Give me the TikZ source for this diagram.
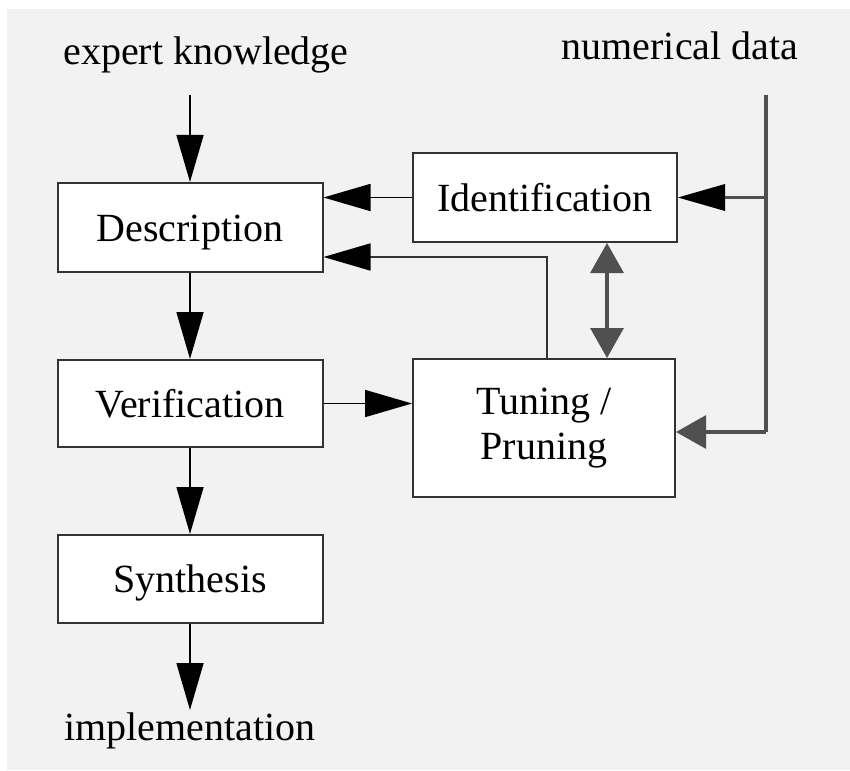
\documentclass[tikz,border=0pt]{standalone}
\usepackage{fontspec}
\setmainfont{Liberation Serif}
\usetikzlibrary{arrows.meta}
\definecolor{bggray}{HTML}{F2F2F2}
\definecolor{boxline}{HTML}{333333}
\definecolor{dataline}{HTML}{505050}
\tikzset{
  block/.style={draw=boxline, line width=2pt, fill=white, inner sep=0pt,
    minimum width=265pt, text height=27pt, text depth=0pt,
    font=\fontsize{40}{44}\selectfont},
  lbl/.style={inner sep=0pt, anchor=base, font=\fontsize{40}{44}\selectfont},
  bigtip/.tip={Triangle[length=47pt,width=27pt]},
  graytip/.tip={Triangle[length=30pt,width=33pt]},
  flow/.style={draw=black, line width=1.6pt, -{bigtip}},
  feedback/.style={draw=boxline, line width=1.6pt, -{bigtip[color=black]}},
  datawire/.style={draw=dataline, line width=3.2pt},
}
\begin{document}
\begin{tikzpicture}[x=1pt, y=-1pt]
  % page and panel
  \fill[white] (0,0) rectangle (850,770);
  \fill[bggray] (7,9) rectangle (850,770);
  \useasboundingbox (0,0) rectangle (850,770);

  % blocks
  \node[block, minimum height=89pt] (des) at (190,227.5) {Description};
  \node[block, minimum height=87pt] (ver) at (190,403.5) {Verification};
  \node[block, minimum height=88pt] (syn) at (190,579) {Synthesis};
  \node[block, minimum width=264pt, minimum height=89pt] (idn) at (545,197.5) {Identification};
  \node[block, minimum width=262pt, minimum height=138pt, text height=, text depth=, align=center]
    (tun) at (544,428) {Tuning /\\[1pt]Pruning};

  % inputs and output
  \node[lbl] (ek) at (206,65) {expert knowledge};
  \node[lbl] (nd) at (680,60) {numerical data};
  \node[lbl] (im) at (190,740) {implementation};
  \coordinate (ektop) at (190,95);
  \coordinate (ndtop) at (766,95);
  \coordinate (ndbranch) at (766,197.5);
  \coordinate (ndturn) at (766,432);
  \coordinate (imtop) at (190,710);
  \coordinate (dx) at (607,0);
  \coordinate (fx) at (547,0);
  \coordinate (fy) at (0,257);

  % main flow
  \draw[flow] (ektop) -- (des.north);
  \draw[flow] (des.south) -- (ver.north);
  \draw[flow] (ver.south) -- (syn.north);
  \draw[flow] (syn.south) -- (imtop);
  \draw[flow] (ver.east) -- (ver.east -| tun.west);
  \draw[flow] (idn.west) -- (idn.west -| des.east);
  \draw[feedback] (tun.north -| fx) |- (des.east |- fy);

  % numerical data wiring
  \draw[datawire] (ndtop) -- (ndturn);
  \draw[datawire, -{bigtip[color=black, line width=0pt]}] (ndbranch) -- (idn.east);
  \draw[datawire, -{graytip}] (ndturn) -- (ndturn -| tun.east);
  \draw[datawire, {graytip}-{graytip}] (idn.south -| dx) -- (tun.north -| dx);
\end{tikzpicture}
\end{document}
